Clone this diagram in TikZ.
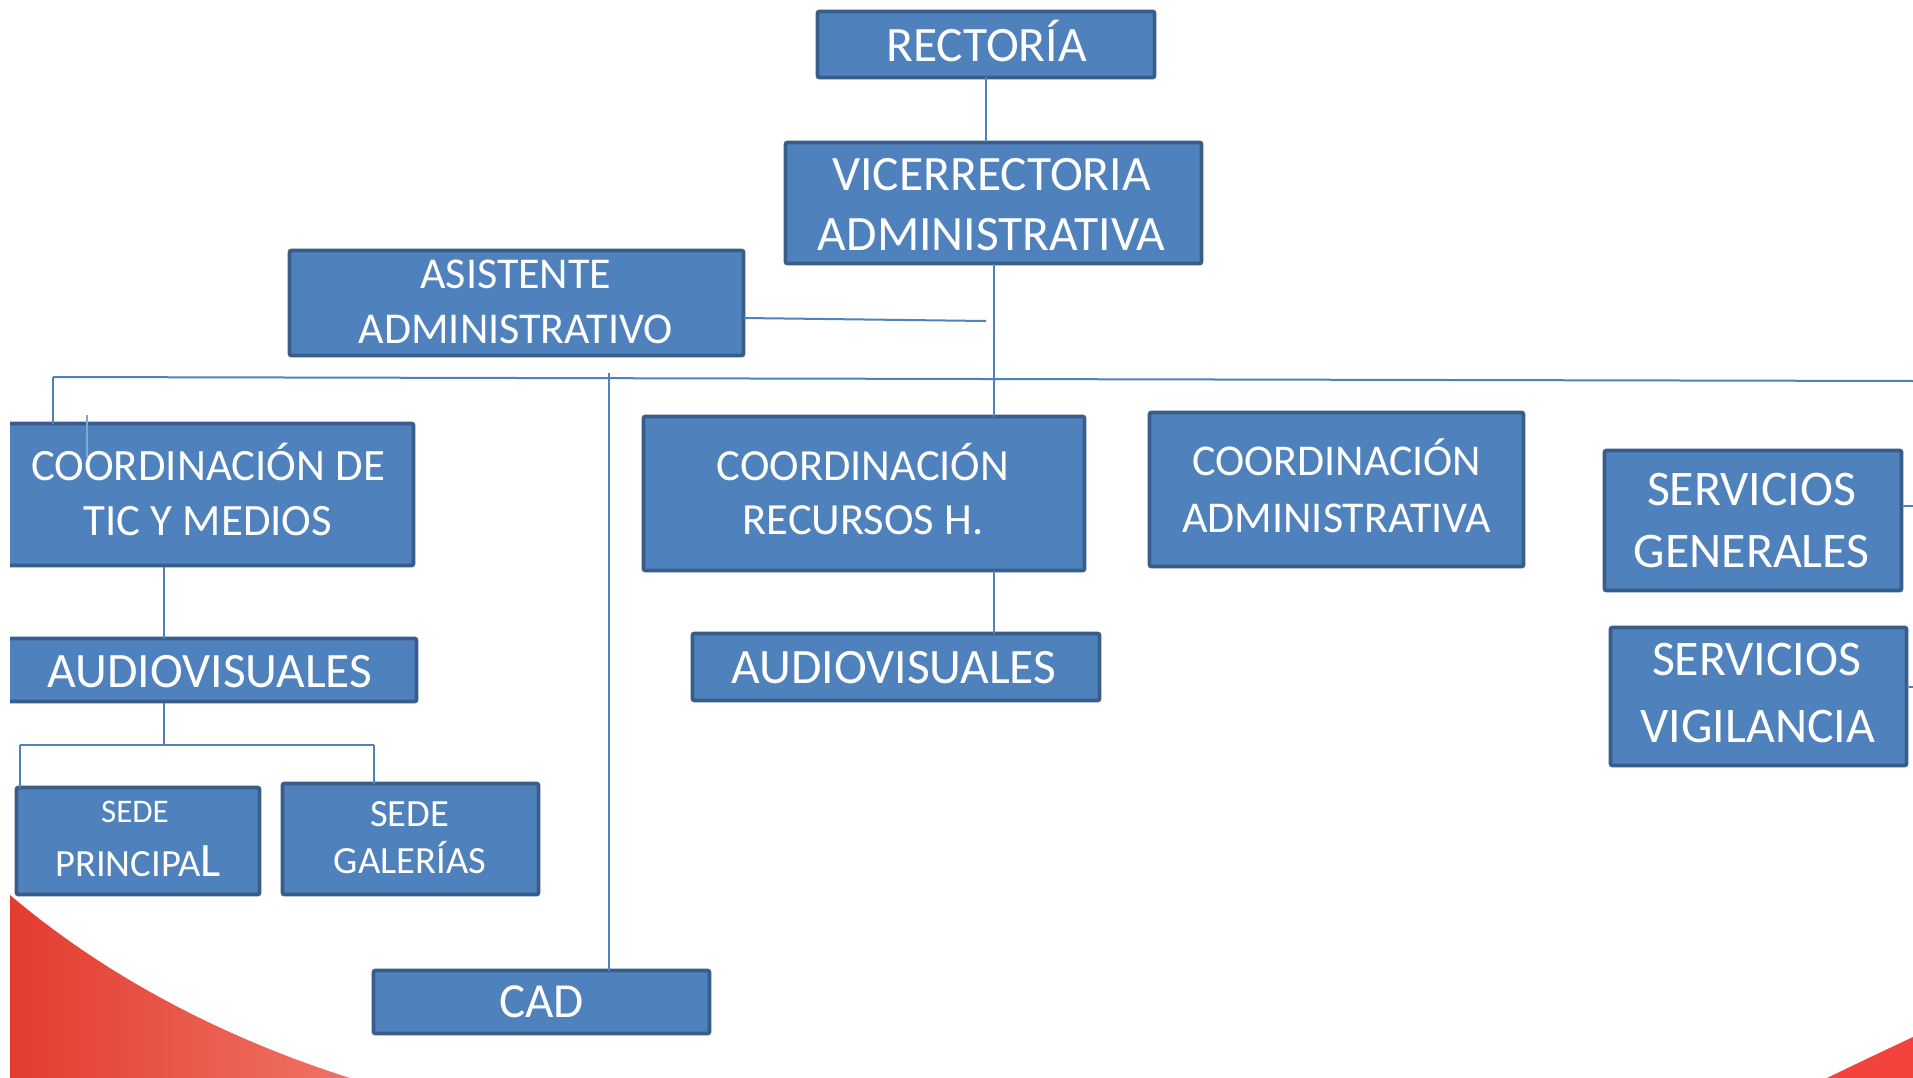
\documentclass[tikz,border=0pt]{standalone}
\usepackage{fontspec}
\setmainfont{Carlito}
\definecolor{boxfill}{RGB}{79,129,189}
\definecolor{boxedge}{RGB}{56,93,138}
\definecolor{linkc}{RGB}{79,129,189}
\definecolor{redA}{RGB}{226,60,48}
\definecolor{redB}{RGB}{240,115,102}
\definecolor{redC}{RGB}{244,66,60}
\newcommand{\fs}[1]{\fontsize{#1}{#1}\selectfont}
\tikzset{
  orgbox/.style={draw=boxedge, fill=boxfill, line width=3.8pt, rounded corners=2pt, inner sep=0pt, outer sep=0pt},
  lbl/.style={text=white, anchor=base, inner sep=0pt, outer sep=0pt},
  link/.style={draw=linkc, line width=2pt},
}
\begin{document}
\begin{tikzpicture}[x=1pt,y=-1pt]
\useasboundingbox (0,0) rectangle (1913,1078);
\fill[white] (0,0) rectangle (1913,1078);
\begin{scope}
\clip (10,0) rectangle (1913,1078);
% red decorations
\shade[left color=redA, right color=redB] (10,895) .. controls (110,980) and (230,1040) .. (350,1078) -- (10,1078) -- cycle;
\fill[redC] (1827,1078) .. controls (1860,1062) .. (1913,1037) -- (1913,1078) -- cycle;

% boxes
\node[orgbox, minimum width=337, minimum height=66] (rect) at (986,44.5) {};
\node[orgbox, minimum width=416, minimum height=121] (vice) at (993.5,203) {};
\node[orgbox, minimum width=454, minimum height=105] (asist) at (516.5,303) {};
\node[orgbox, minimum width=432, minimum height=142] (tic) at (197.5,494.5) {};
\node[orgbox, minimum width=435, minimum height=63] (audL) at (199,670) {};
\node[orgbox, minimum width=441, minimum height=154] (crh) at (864,493.5) {};
\node[orgbox, minimum width=407, minimum height=67] (audM) at (896,667) {};
\node[orgbox, minimum width=374, minimum height=154] (ca) at (1336.5,489.5) {};
\node[orgbox, minimum width=297, minimum height=140] (sg) at (1753,520.5) {};
\node[orgbox, minimum width=296, minimum height=138] (sv) at (1758.5,696.5) {};
\node[orgbox, minimum width=243, minimum height=107] (sp) at (138,841) {};
\node[orgbox, minimum width=256, minimum height=111] (sgal) at (410.5,839) {};
\node[orgbox, minimum width=336, minimum height=63] (cad) at (541.5,1002) {};

% texts
\node[lbl, font=\fs{49.5}] (t-rect) at (986.5,62) {RECTORÍA};
\node[lbl, font=\fs{49.5}] (t-vice1) at (991.7,190) {VICERRECTORIA};
\node[lbl, font=\fs{49.5}] (t-vice2) at (991.7,250) {ADMINISTRATIVA};
\node[lbl, font=\fs{44}] (t-as1) at (515.8,288) {ASISTENTE};
\node[lbl, font=\fs{44}] (t-as2) at (515.8,343) {ADMINISTRATIVO};
\node[lbl, font=\fs{44.8}] (t-tic1) at (208,480) {COORDINACIÓN DE};
\node[lbl, font=\fs{44.8}] (t-tic2) at (208,535) {TIC Y MEDIOS};
\node[lbl, font=\fs{49.5}] (t-audL) at (210,687) {AUDIOVISUALES};
\node[lbl, font=\fs{44.5}] (t-crh1) at (863,480) {COORDINACIÓN};
\node[lbl, font=\fs{44.5}] (t-crh2) at (863,534) {RECURSOS H.};
\node[lbl, font=\fs{49.5}] (t-audM) at (894,683) {AUDIOVISUALES};
\node[lbl, font=\fs{44}] (t-ca1) at (1336.7,475) {COORDINACIÓN};
\node[lbl, font=\fs{44}] (t-ca2) at (1336.7,532) {ADMINISTRATIVA};
\node[lbl, font=\fs{49.8}] (t-sg1) at (1751.7,505) {SERVICIOS};
\node[lbl, font=\fs{49.8}] (t-sg2) at (1751.7,567) {GENERALES};
\node[lbl, font=\fs{49.8}] (t-sv1) at (1756.7,675) {SERVICIOS};
\node[lbl, font=\fs{49.8}] (t-sv2) at (1758,742) {VIGILANCIA};
\node[lbl, font=\fs{33}] (t-sp1) at (135,822) {SEDE};
\node[lbl] (t-sp2) at (138,876) {{\fs{38.5}PRINCIPA}{\fs{48}L}};
\node[lbl, font=\fs{38.5}] (t-sgal1) at (409.6,826) {SEDE};
\node[lbl, font=\fs{38.5}] (t-sgal2) at (410,873) {GALERÍAS};
\node[lbl, font=\fs{49}] (t-cad) at (541.7,1017) {CAD};

% connector coordinates
\coordinate (aj) at (986,321);
\coordinate (hl) at (53,377);
\coordinate (hr) at (1913,381);
\coordinate (ct) at (609,373);
\coordinate (tk1) at (87,415);
\coordinate (tk2) at (87,457);
\coordinate (t1) at (164,567);
\coordinate (a1) at (164,703);
\coordinate (bj) at (164,745);
\coordinate (bl) at (20,745);
\coordinate (br) at (374,745);
\coordinate (sge) at (1913,506);
\coordinate (sve) at (1913,687);

% connectors
\draw[link] (rect.south) -- (rect.south |- vice.north);
\draw[link] (vice.south) -- (vice.south |- crh.north);
\draw[link] (asist.east |- 0,318) -- (aj);
\draw[link] (hl) -- (hr);
\draw[link] (hl) -- (hl |- tic.north);
\draw[link, line width=1.2pt, linkc!70] (tk1) -- (tk2);
\draw[link] (ct) -- (ct |- cad.north);
\draw[link] (t1) -- (t1 |- audL.north);
\draw[link] (a1) -- (bj);
\draw[link] (bl) -- (br);
\draw[link] (bl) -- (bl |- sp.north);
\draw[link] (br) -- (br |- sgal.north);
\draw[link] (vice.south |- crh.south) -- (vice.south |- audM.north);
\draw[link] (sg.east |- sge) -- (sge);
\draw[link] (sv.east |- sve) -- (sve);
\end{scope}
\end{tikzpicture}
\end{document}
